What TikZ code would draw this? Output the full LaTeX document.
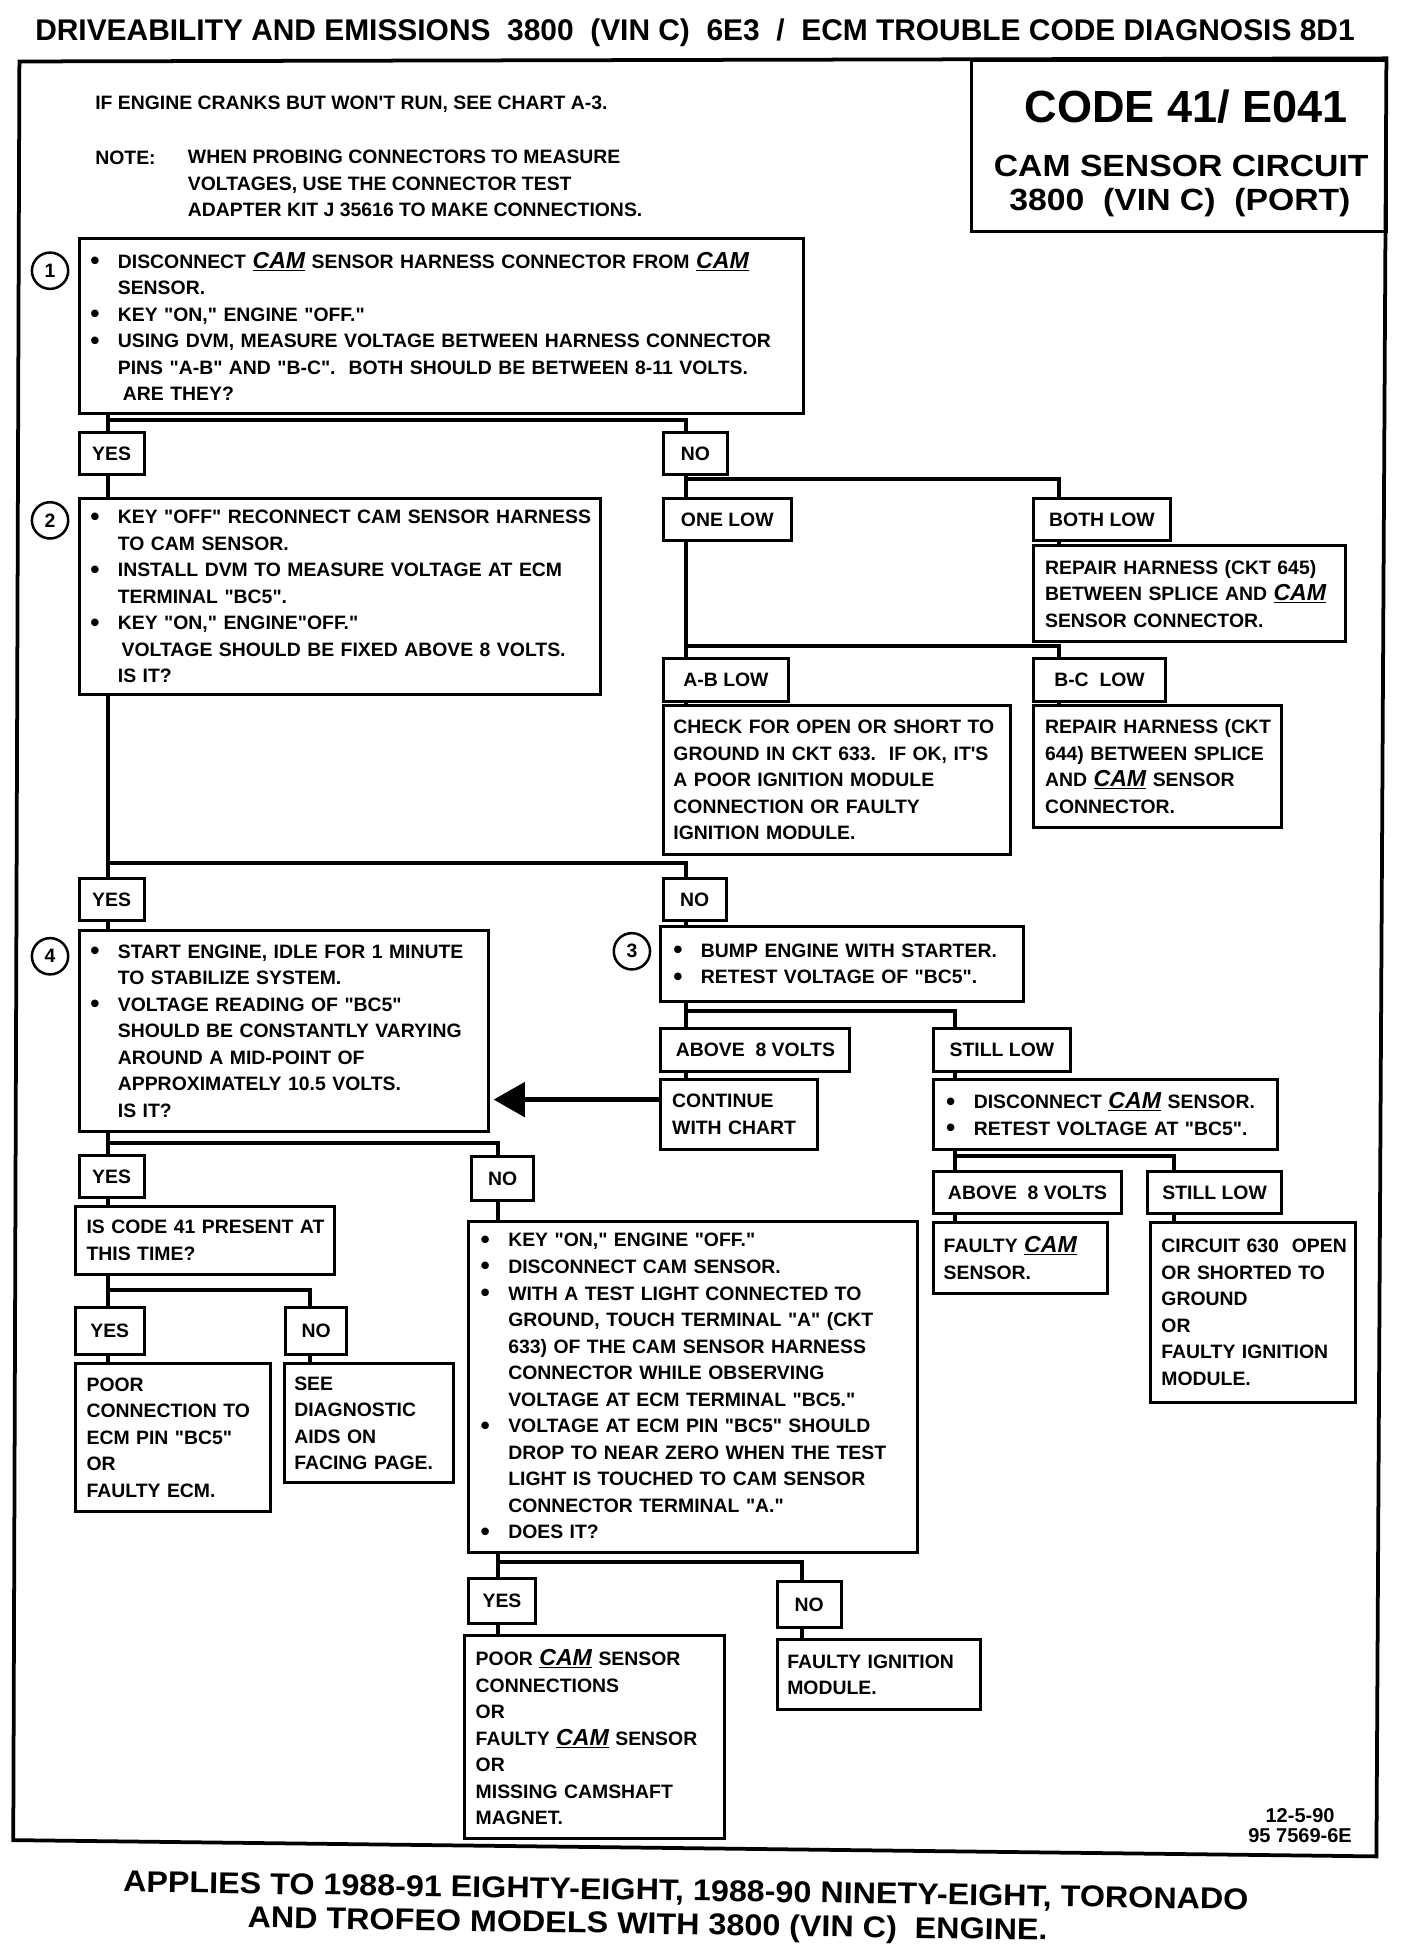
\documentclass[tikz,border=0pt]{standalone}
\usepackage{fontspec}
\setmainfont{Liberation Sans}
\newfontfamily\bodyf{Liberation Sans}
\newfontfamily\widef{Liberation Sans}[FakeStretch=1.1]
\newfontfamily\botf{Liberation Sans}[FakeStretch=1.075]
\usetikzlibrary{arrows.meta,calc}
\newcommand\cam{\underline{\fontsize{18.5}{21}\selectfont\itshape CAM}}
\newcommand\bl{\makebox[22pt][l]{\raisebox{-1.2pt}{\fontsize{21}{21}\selectfont •}}}
\newcommand\ind{\hspace*{22pt}}
\tikzset{
  bodyfont/.style={font=\bodyf\bfseries\fontsize{15.5}{21.2}\selectfont},
  stepbox/.style n args={3}{bodyfont, draw, line width=2.4pt, anchor=north west,
     inner xsep=0pt, inner ysep=0pt, align=left, minimum width=#1, minimum height=#2,
     text width=#1, execute at begin node={\leftskip=#3pt\relax}},
  lab/.style 2 args={bodyfont, draw, line width=2.4pt, anchor=north west,
     minimum width=#1, minimum height=#2, inner sep=0pt},
  numc/.style={bodyfont, draw, circle, line width=2pt, minimum size=29pt, inner sep=0pt},
  wire/.style={line width=3.2pt},
  plain/.style={bodyfont, anchor=west, inner sep=0pt},
}
\begin{document}
\begin{tikzpicture}[x=1pt,y=-0.9925pt]
\useasboundingbox (0pt,0pt) rectangle (1125pt,-1560pt);
% header
\node[plain, font=\bodyf\bfseries\fontsize{23.9}{28}\selectfont] (hdr) at (28,26)
  {DRIVEABILITY AND EMISSIONS\ \ 3800\ \ (VIN C)\ \ 6E3\ \ /\ \ ECM TROUBLE CODE DIAGNOSIS 8D1};
% frame
\draw[line width=3pt] (15.5,49.5) -- (1108,47) -- (1100,1494.8) -- (10.6,1481.7) -- cycle;
\node[draw, line width=2.2pt, anchor=north west, minimum width=332, minimum height=136.5, inner sep=0pt] (ttlbox) at (775,48) {};
\node[font=\bodyf\bfseries\fontsize{36}{40}\selectfont, inner sep=0pt] (t1) at (948,86) {CODE 41/ E041};
\node[font=\widef\bfseries\fontsize{24.5}{28}\selectfont, inner sep=0pt] (t2) at (944,134) {CAM SENSOR CIRCUIT};
\node[font=\widef\bfseries\fontsize{24.5}{28}\selectfont, inner sep=0pt] (t3) at (943,163) {3800\ \ (VIN C)\ \ (PORT)};
% top notes
\node[plain] (ifeng) at (76,84) {IF ENGINE CRANKS BUT WON'T RUN, SEE CHART A-3.};
\node[plain] (note) at (76,127) {NOTE:};
\node[plain, align=left] (notetxt) at (150,148) {WHEN PROBING CONNECTORS TO MEASURE\\VOLTAGES, USE THE CONNECTOR TEST\\ADAPTER KIT J 35616 TO MAKE CONNECTIONS.};
% step 1
\node[numc] (n1) at (40,218) {1};
\node[stepbox={579}{140}{9}] (b1) at (62,191) {\bl DISCONNECT \cam\ SENSOR HARNESS CONNECTOR FROM \cam\\
\ind SENSOR.\\
\bl KEY "ON," ENGINE "OFF."\\
\bl USING DVM, MEASURE VOLTAGE BETWEEN HARNESS CONNECTOR\\
\ind PINS "A-B" AND "B-C".\ \ BOTH SHOULD BE BETWEEN 8-11 VOLTS.\\
\ind\hspace*{4pt}ARE THEY?};
\node[lab={52}{34}] (yes1) at (62,347) {YES};
\node[lab={51}{34}] (no1) at (529,347) {NO};
% step 2
\node[numc] (n2) at (40,419) {2};
\node[stepbox={417}{157}{9}] (b2) at (62,400) {\bl KEY "OFF" RECONNECT CAM SENSOR HARNESS\\
\ind TO CAM SENSOR.\\
\bl INSTALL DVM TO MEASURE VOLTAGE AT ECM\\
\ind TERMINAL "BC5".\\
\bl KEY "ON," ENGINE"OFF."\\
\ind\hspace*{3pt}VOLTAGE SHOULD BE FIXED ABOVE 8 VOLTS.\\
\ind IS IT?};
\node[lab={102}{34}] (onelow) at (529,400) {ONE LOW};
\node[lab={109}{34}] (bothlow) at (825,400) {BOTH LOW};
\node[stepbox={249}{77}{9}] (rep645) at (825,438) {REPAIR HARNESS (CKT 645)\\BETWEEN SPLICE AND \cam\\SENSOR CONNECTOR.};
\node[lab={100}{34}] (ablow) at (529,529) {A-B LOW};
\node[lab={105}{34}] (bclow) at (825,529) {B-C\ \ LOW};
\node[stepbox={277}{119}{8}] (check) at (529,567) {CHECK FOR OPEN OR SHORT TO\\GROUND IN CKT 633.\ \ IF OK, IT'S\\A POOR IGNITION MODULE\\CONNECTION OR FAULTY\\IGNITION MODULE.};
\node[stepbox={198}{97}{9}] (rep644) at (825,567) {REPAIR HARNESS (CKT\\644) BETWEEN SPLICE\\AND \cam\ SENSOR\\CONNECTOR.};
\node[lab={52}{34}] (yes2) at (62,706) {YES};
\node[lab={50}{34}] (no2) at (529,706) {NO};
% step 4
\node[numc] (n4) at (40,770) {4};
\node[stepbox={327}{161}{9}] (b4) at (62,748) {\bl START ENGINE, IDLE FOR 1 MINUTE\\
\ind TO STABILIZE SYSTEM.\\
\bl VOLTAGE READING OF "BC5"\\
\ind SHOULD BE CONSTANTLY VARYING\\
\ind AROUND A MID-POINT OF\\
\ind APPROXIMATELY 10.5\ VOLTS.\\
\ind IS IT?};
% step 3
\node[numc] (n3) at (505,766) {3};
\node[stepbox={290}{60}{10}] (b3) at (527,745) {\bl BUMP ENGINE WITH STARTER.\\\bl RETEST VOLTAGE OF "BC5".};
\node[lab={151}{34}] (above1) at (527,827) {ABOVE\ \ 8 VOLTS};
\node[lab={109}{34}] (still1) at (745,827) {STILL LOW};
\node[stepbox={125}{56}{9}] (cont) at (527,868) {CONTINUE\\WITH CHART};
\node[stepbox={275}{56}{10}] (disc) at (745,868) {\bl DISCONNECT \cam\ SENSOR.\\\bl RETEST VOLTAGE AT "BC5".};
\node[lab={150}{34}] (above2) at (745,942) {ABOVE\ \ 8 VOLTS};
\node[lab={107}{34}] (still2) at (916,942) {STILL LOW};
\node[stepbox={139}{57}{8}] (fcam) at (745,983) {FAULTY \cam\\SENSOR.};
\node[stepbox={164}{144}{9}] (circ) at (918,983) {CIRCUIT 630\ \ OPEN\\OR SHORTED TO\\GROUND\\OR\\FAULTY IGNITION\\MODULE.};
% lower left
\node[lab={52}{34}] (yes3) at (62,929) {YES};
\node[lab={49}{35}] (no3) at (376,930) {NO};
\node[stepbox={207}{55}{9}] (code41) at (59,970) {IS CODE 41 PRESENT AT\\THIS TIME?};
\node[lab={55}{37}] (yes4) at (59,1052) {YES};
\node[lab={49}{37}] (no4) at (227,1052) {NO};
\node[stepbox={156}{118}{9}] (poorc) at (59,1097) {POOR\\CONNECTION TO\\ECM PIN "BC5"\\OR\\FAULTY ECM.};
\node[stepbox={135}{95}{8}] (see) at (226,1097) {SEE\\DIAGNOSTIC\\AIDS ON\\FACING PAGE.};
% big box
\node[stepbox={359}{265}{10}] (big) at (373,982) {\bl KEY "ON," ENGINE "OFF."\\
\bl DISCONNECT CAM SENSOR.\\
\bl WITH A TEST LIGHT CONNECTED TO\\
\ind GROUND, TOUCH TERMINAL "A" (CKT\\
\ind 633) OF THE CAM SENSOR HARNESS\\
\ind CONNECTOR WHILE OBSERVING\\
\ind VOLTAGE AT ECM TERMINAL "BC5."\\
\bl VOLTAGE AT ECM PIN "BC5" SHOULD\\
\ind DROP TO NEAR ZERO WHEN THE TEST\\
\ind LIGHT IS TOUCHED TO CAM SENSOR\\
\ind CONNECTOR TERMINAL "A."\\
\bl DOES IT?};
\node[lab={54}{36}] (yes5) at (373,1270) {YES};
\node[lab={51}{37}] (no5) at (620,1272) {NO};
\node[stepbox={208}{162}{9}] (poorcam) at (370,1316) {POOR \cam\ SENSOR\\CONNECTIONS\\OR\\FAULTY \cam\ SENSOR\\OR\\MISSING CAMSHAFT\\MAGNET.};
\node[stepbox={162}{56}{8}] (fign) at (620,1319) {FAULTY IGNITION\\MODULE.};
% footer
\node[font=\bodyf\bfseries\fontsize{16}{17}\selectfont, inner sep=0pt, align=center] (ref) at (1039,1470) {12-5-90\\[-1pt]95 7569-6E};
\node[font=\botf\bfseries\fontsize{24}{27}\selectfont, inner sep=0pt, align=left, rotate=-0.9, anchor=west] (app) at (98,1531)
  {APPLIES TO 1988-91 EIGHTY-EIGHT, 1988-90 NINETY-EIGHT, TORONADO\\
   \hspace*{100pt}AND TROFEO MODELS WITH 3800 (VIN C)\ \ ENGINE.};
% columns and junctions
\coordinate (cA) at (86,0);
\coordinate (cB) at (548,0);
\coordinate (cC) at (846,0);
\coordinate (cF) at (763,0);
\coordinate (cG) at (938,0);
\coordinate (cH) at (398,0);
\coordinate (cI) at (641,0);
\coordinate (cK) at (248,0);
\coordinate (h1) at (0,338);
\coordinate (h2) at (0,386);
\coordinate (h3) at (0,520);
\coordinate (h4) at (0,695);
\coordinate (h5) at (0,814);
\coordinate (h6) at (0,931);
\coordinate (h7) at (0,920);
\coordinate (h8) at (0,1039);
\coordinate (h9) at (0,1258);
\draw[wire] (cA|-b1.south) -- (cA|-yes1.north);
\draw[wire] (cA|-h1) -| (cB|-no1.north);
\draw[wire] (cA|-yes1.south) -- (cA|-b2.north);
\draw[wire] (cB|-no1.south) -- (cB|-onelow.north);
\draw[wire] (cB|-h2) -| (cC|-bothlow.north);
\draw[wire] (cC|-bothlow.south) -- (cC|-rep645.north);
\draw[wire] (cB|-onelow.south) -- (cB|-ablow.north);
\draw[wire] (cB|-h3) -| (cC|-bclow.north);
\draw[wire] (cB|-ablow.south) -- (cB|-check.north);
\draw[wire] (cC|-bclow.south) -- (cC|-rep644.north);
\draw[wire] (cA|-b2.south) -- (cA|-yes2.north);
\draw[wire] (cA|-h4) -| (cB|-no2.north);
\draw[wire] (cA|-yes2.south) -- (cA|-b4.north);
\draw[wire] (cB|-no2.south) -- (cB|-b3.north);
\draw[wire] (cB|-b3.south) -- (cB|-above1.north);
\draw[wire] (cB|-h5) -| (cF|-still1.north);
\draw[wire] (cB|-above1.south) -- (cB|-cont.north);
\draw[wire] (cF|-still1.south) -- (cF|-disc.north);
\coordinate (arr) at ($(cont.west)+(0,-12)$);
\draw[wire, line width=4.5pt, -{Triangle[length=25pt,width=27pt]}, shorten >=3pt] (arr) -- (arr -| b4.east);
\draw[wire] (cF|-disc.south) -- (cF|-above2.north);
\draw[wire] (cF|-h6) -| (cG|-still2.north);
\draw[wire] (cF|-above2.south) -- (cF|-fcam.north);
\draw[wire] (cG|-still2.south) -- (cG|-circ.north);
\draw[wire] (cA|-b4.south) -- (cA|-yes3.north);
\draw[wire] (cA|-h7) -| (cH|-no3.north);
\draw[wire] (cA|-yes3.south) -- (cA|-code41.north);
\draw[wire] (cA|-code41.south) -- (cA|-yes4.north);
\draw[wire] (cA|-h8) -| (cK|-no4.north);
\draw[wire] (cA|-yes4.south) -- (cA|-poorc.north);
\draw[wire] (cK|-no4.south) -- (cK|-see.north);
\draw[wire] (cH|-no3.south) -- (cH|-big.north);
\draw[wire] (cH|-big.south) -- (cH|-yes5.north);
\draw[wire] (cH|-h9) -| (cI|-no5.north);
\draw[wire] (cH|-yes5.south) -- (cH|-poorcam.north);
\draw[wire] (cI|-no5.south) -- (cI|-fign.north);
\end{tikzpicture}
\end{document}
